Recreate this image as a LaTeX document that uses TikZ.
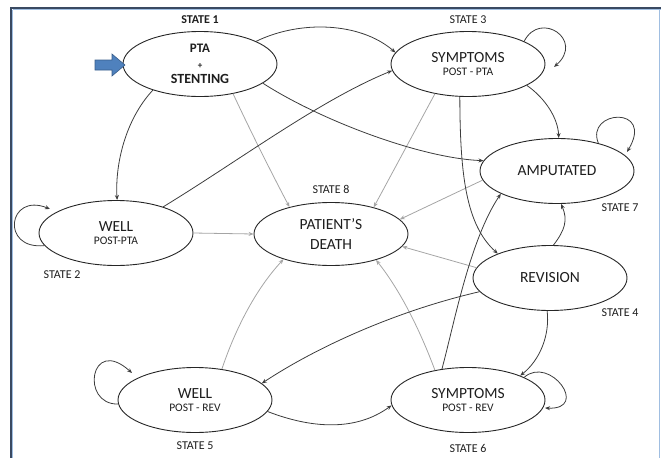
\documentclass[tikz,border=0pt]{standalone}
\usepackage{fontspec}
\setmainfont{Carlito}
\usetikzlibrary{shapes.geometric,arrows.meta}
\definecolor{framedark}{RGB}{58,74,98}
\definecolor{framelight}{RGB}{160,190,225}
\definecolor{txt}{RGB}{30,30,30}
\definecolor{darkline}{RGB}{60,60,60}
\definecolor{grayline}{RGB}{165,165,165}
\definecolor{bluefill}{RGB}{79,129,189}
\definecolor{blueedge}{RGB}{56,93,138}
\tikzset{
  statenode/.style={ellipse,draw=black!85,line width=0.9pt,fill=white,
    minimum width=154pt,minimum height=65pt,inner sep=0pt,text=txt,align=center},
  statelbl/.style={text=txt,font=\fontsize{12}{13}\selectfont,inner sep=0pt},
  dk/.style={draw=darkline,line width=0.8pt,-{Stealth[length=5pt,width=4pt]}},
  gr/.style={draw=grayline,line width=0.8pt,-{Stealth[length=5pt,width=4pt]}},
}
\begin{document}
\begin{tikzpicture}[x=1pt,y=-1pt]
\useasboundingbox (0,0) rectangle (661,458);
% frame
\draw[framelight,line width=1.2pt] (12.5,9.5) -- (661,9.5);
\draw[framelight,line width=1.2pt] (12.5,9.5) -- (12.5,458);
\draw[framedark,line width=2pt] (10,7.5) -- (661,7.5);
\draw[framedark,line width=2pt] (11,7) -- (11,458);
\draw[framelight,line width=1.5pt] (659.5,9) -- (659.5,458);

% states
\node[statenode] (s1) at (200,64) {{\fontsize{13}{14}\selectfont\bfseries PTA}\\[4pt]{\fontsize{9}{10}\selectfont\bfseries +}\\[3pt]{\fontsize{14}{15}\selectfont\bfseries STENTING}};
\node[statenode] (s3) at (468,64) {{\fontsize{15.5}{17}\selectfont SYMPTOMS}\\[1pt]{\fontsize{11.5}{12}\selectfont POST - PTA}};
\node[statenode] (s2) at (116,233) {{\fontsize{15.5}{17}\selectfont WELL}\\[1pt]{\fontsize{11.5}{12}\selectfont POST-PTA}};
\node[statenode,minimum height=63pt,font=\fontsize{15.5}{20}\selectfont] (s8) at (331,234) {PATIENT’S\\DEATH};
\node[statenode,font=\fontsize{15.5}{17}\selectfont] (s7) at (557,171) {AMPUTATED};
\node[statenode,font=\fontsize{15.5}{17}\selectfont] (s4) at (550,278) {REVISION};
\node[statenode] (s5) at (195,400) {{\fontsize{15.5}{17}\selectfont WELL}\\[1pt]{\fontsize{11.5}{12}\selectfont POST - REV}};
\node[statenode] (s6) at (468,400) {{\fontsize{15.5}{17}\selectfont SYMPTOMS}\\[1pt]{\fontsize{11.5}{12}\selectfont POST - REV}};

% state labels
\node[statelbl,font=\fontsize{12}{13}\selectfont\bfseries] (l1) at (200,20) {STATE 1};
\node[statelbl] (l3) at (468,20) {STATE 3};
\node[statelbl] (l2) at (62,275) {STATE 2};
\node[statelbl] (l8) at (331,189) {STATE 8};
\node[statelbl] (l7) at (620,208) {STATE 7};
\node[statelbl] (l4) at (620,313) {STATE 4};
\node[statelbl] (l5) at (195,446) {STATE 5};
\node[statelbl] (l6) at (468,448) {STATE 6};

% entry block arrow
\draw[blueedge,fill=bluefill,line width=0.6pt]
  (95,60) -- (112,60) -- (112,54) -- (125,65) -- (112,76) -- (112,70) -- (95,70) -- cycle;

% gray transitions to death
\draw[gr] (s1.318) .. controls (250,130) and (270,170) .. (s8.147);
\draw[gr] (s2.east) -- (s8.west);
\draw[gr] (s3.222) -- (s8.32);
\draw[gr] (s7.187) -- (s8.12);
\draw[gr] (s4.172) -- (s8.-10);
\draw[gr] (s5.49) .. controls (235,330) and (255,290) .. (s8.208);
\draw[gr] (s6.138) .. controls (420,330) and (400,290) .. (s8.330);

% dark transitions
\draw[dk] (s1.22) .. controls (300,20) and (360,22) .. (s3.171);
\draw[dk] (s1.209) .. controls (125,120) and (115,165) .. (s2.88);
\draw[dk] (s1.-17) .. controls (320,120) and (420,158) .. (s7.172);
\draw[dk] (s2.29) .. controls (240,160) and (320,100) .. (s3.185);
\draw[dk] (s3.340) .. controls (545,98) and (558,118) .. (s7.87);
\draw[dk] (s3.256) .. controls (460,175) and (466,225) .. (s4.155);
\draw[dk] (s4.84) .. controls (565,230) and (568,220) .. (s7.277);
\draw[dk] (s4.191) .. controls (400,310) and (320,345) .. (s5.14);
\draw[dk] (s4.265) .. controls (550,335) and (540,360) .. (s6.25);
\draw[dk] (s5.351) .. controls (310,428) and (355,432) .. (s6.184);
\draw[dk] (s6.130) .. controls (455,320) and (470,240) .. (s7.202);

% self loops
\coordinate (e3) at (554,67);
\coordinate (e7) at (627,152);
\coordinate (e2) at (50,209);
\coordinate (e5) at (132,373);
\coordinate (e6) at (545,408);
\draw[dk] (s3.22) .. controls (540,10) and (585,40) .. (e3);
\draw[dk] (s7.34) .. controls (585,110) and (655,105) .. (e7);
\draw[dk] (s2.190) .. controls (0,250) and (8,192) .. (e2);
\draw[dk] (s5.183) .. controls (80,405) and (90,335) .. (e5);
\draw[dk] (s6.22) .. controls (550,355) and (590,410) .. (e6);
\end{tikzpicture}
\end{document}
